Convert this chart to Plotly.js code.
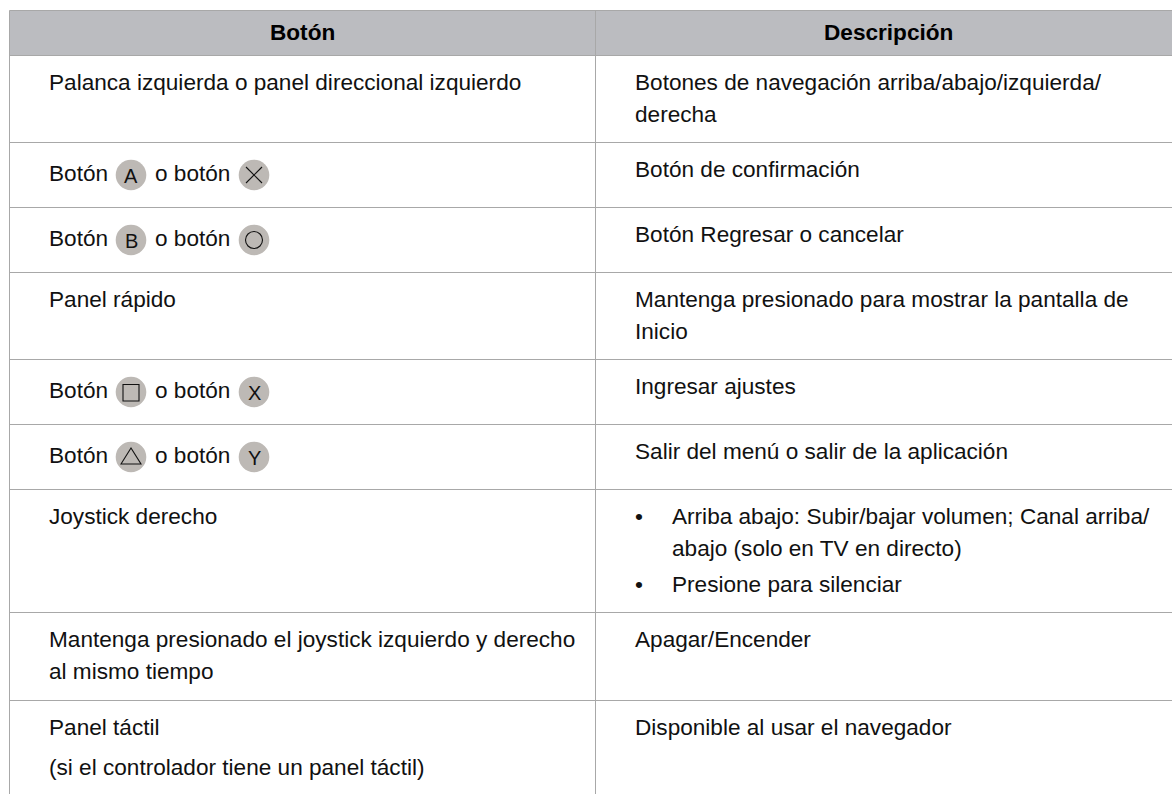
<!DOCTYPE html>
<html><head><meta charset="utf-8">
<script src="https://cdn.plot.ly/plotly-3.0.1.min.js"></script>
<style>html,body{margin:0;padding:0;background:#fff}#c{width:1172px;height:794px}</style>
</head><body><div id="c"></div>
<script>
const headerLabels = ["Botón", "Descripción"];
const leftLines = [
  ["Palanca izquierda o panel direccional izquierdo"],
  [],
  [],
  ["Panel rápido"],
  [],
  [],
  ["Joystick derecho"],
  ["Mantenga presionado el joystick izquierdo y derecho", "al mismo tiempo"],
  ["Panel táctil", "(si el controlador tiene un panel táctil)"]
];
const rightLines = [
  ["Botones de navegación arriba/abajo/izquierda/", "derecha"],
  ["Botón de confirmación"],
  ["Botón Regresar o cancelar"],
  ["Mantenga presionado para mostrar la pantalla de", "Inicio"],
  ["Ingresar ajustes"],
  ["Salir del menú o salir de la aplicación"],
  [],
  ["Apagar/Encender"],
  ["Disponible al usar el navegador"]
];
const bulletLines = [["Arriba abajo: Subir/bajar volumen; Canal arriba/", "abajo (solo en TV en directo)"], ["Presione para silenciar"]];
const iconRows = [
  {row: 1, first: "A", second: "cross"},
  {row: 2, first: "B", second: "circle"},
  {row: 4, first: "square", second: "X"},
  {row: 5, first: "triangle", second: "Y"}
];
const iconWords = ["Botón", "o botón"];

// layout geometry
const L = 9.5, M = 595.5, R = 1172, T = 10.5, HB = 55.5, BOTTOM = 794;
const rowLines = [142.5, 207.5, 272.5, 359.5, 424.5, 489.5, 612.5, 700.5];
const rowTops = [HB].concat(rowLines);
const FONT = "Liberation Sans, Arial, sans-serif";
const SIZE = 22.6, LINE = 32, FIRST = 26.5;
const LX = 47, RX = 632.5, BX = 670, DOTX = 632.5;
const IC1 = 131, IC2 = 254, IR = 15.3;
const GRID = "#a8a8a8", ICON = "#bdb9b5", INK = "#111111";

const shapes = [], ann = [];
shapes.push({type:"rect", xref:"x", yref:"y", x0:L, x1:R, y0:T, y1:HB, fillcolor:"#bbbcc0", line:{width:0}, layer:"below"});
const hline = (y) => shapes.push({type:"line", x0:L, x1:R, y0:y, y1:y, line:{color:GRID, width:1}});
const vline = (x) => shapes.push({type:"line", x0:x, x1:x, y0:T, y1:BOTTOM, line:{color:GRID, width:1}});
[T, HB].concat(rowLines).forEach(hline);
[L, M].forEach(vline);

const text = (x, y, t, opts={}) => ann.push(Object.assign({
  x, y, text:t, xanchor:"left", yanchor:"middle", showarrow:false, align:"left",
  font:{family:FONT, size:SIZE, color:INK}
}, opts));

text(302, 32, headerLabels[0], {xanchor:"center", font:{family:FONT, size:SIZE, color:"#000", weight:700}});
text(888.5, 32, headerLabels[1], {xanchor:"center", font:{family:FONT, size:SIZE, color:"#000", weight:700}});
leftLines.forEach((ls,r) => ls.forEach((s,i) => text(LX, rowTops[r]+FIRST+i*LINE + (r===8&&i===1?8:0), s)));
rightLines.forEach((ls,r) => ls.forEach((s,i) => text(RX, rowTops[r]+FIRST+i*LINE, s)));
let by = rowTops[6]+FIRST;
bulletLines.forEach((ls) => {
  text(DOTX, by, "•");
  ls.forEach((s,i) => text(BX, by+i*LINE, s));
  by += ls.length*LINE + 4;
});

function glyph(kind, cx, cy) {
  shapes.push({type:"circle", x0:cx-IR, x1:cx+IR, y0:cy-IR, y1:cy+IR, fillcolor:ICON, line:{width:0}});
  const ln = {color:"#111", width:1.1};
  if (kind === "cross") {
    shapes.push({type:"line", x0:cx-8, x1:cx+8, y0:cy-8, y1:cy+8, line:ln});
    shapes.push({type:"line", x0:cx-8, x1:cx+8, y0:cy+8, y1:cy-8, line:ln});
  } else if (kind === "circle") {
    shapes.push({type:"circle", x0:cx-8.5, x1:cx+8.5, y0:cy-8.5, y1:cy+8.5, line:ln});
  } else if (kind === "square") {
    shapes.push({type:"rect", x0:cx-8, x1:cx+8, y0:cy-7.5, y1:cy+9, line:ln});
  } else if (kind === "triangle") {
    shapes.push({type:"path", path:`M ${cx-10} ${cy+7} L ${cx} ${cy-9} L ${cx+10} ${cy+7} Z`, line:ln});
  } else {
    ann.push({x:cx, y:cy+1, text:kind, xanchor:"center", yanchor:"middle", showarrow:false,
      font:{family:FONT, size:20, color:"#111"}});
  }
}
iconRows.forEach(o => {
  const cy = rowTops[o.row] + 32.5;
  const ty = rowTops[o.row] + 31;
  text(LX, ty, iconWords[0]);
  text(153, ty, iconWords[1]);
  glyph(o.first, IC1, cy);
  glyph(o.second, IC2, cy);
});

Plotly.newPlot("c", [{x:[0], y:[0], mode:"markers", marker:{opacity:0}, hoverinfo:"skip", showlegend:false}], {
  width:1172, height:794, margin:{l:0,r:0,t:0,b:0},
  paper_bgcolor:"#fff", plot_bgcolor:"#fff", showlegend:false,
  xaxis:{range:[0,1172], visible:false, fixedrange:true},
  yaxis:{range:[794,0], visible:false, fixedrange:true},
  shapes, annotations:ann
}, {displayModeBar:false, staticPlot:true});
</script></body></html>
